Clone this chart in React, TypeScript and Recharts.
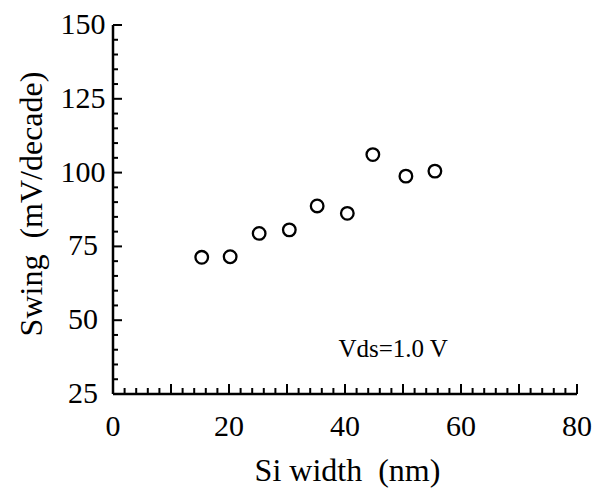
import React from 'react';
import { ScatterChart, Scatter, XAxis, YAxis, ReferenceDot } from 'recharts';

const siWidth = [15.3, 20.2, 25.2, 30.4, 35.2, 40.4, 44.8, 50.5, 55.5];
const swing = [71.3, 71.5, 79.4, 80.6, 88.7, 86.2, 106.1, 98.8, 100.5];
const xTicks = [0, 2, 4, 6, 8, 10, 12, 14, 16, 18, 20, 22, 24, 26, 28, 30, 32, 34, 36, 38, 40, 42, 44, 46, 48, 50, 52, 54, 56, 58, 60, 62, 64, 66, 68, 70, 72, 74, 76, 78, 80];
const yTicks = [25, 30, 35, 40, 45, 50, 55, 60, 65, 70, 75, 80, 85, 90, 95, 100, 105, 110, 115, 120, 125, 130, 135, 140, 145, 150];
const xLabelTicks = [0, 20, 40, 60, 80];
const yLabelTicks = [25, 50, 75, 100, 125, 150];
const xMajor = [0, 10, 20, 30, 40, 50, 60, 70, 80];
const annotation = { x: 48.3, y: 40.5, text: 'Vds=1.0 V' };

const data = siWidth.map((w, i) => ({ w, s: swing[i] }));

const FONT = "Times New Roman, Times, Tinos, Liberation Serif, Noto Serif, DejaVu Serif, FreeSerif, Nimbus Roman, Nimbus Roman No9 L, serif";
const textStyle = (size: number): React.CSSProperties => ({
  fontFamily: FONT,
  fontSize: size,
  whiteSpace: 'pre',
});

const YTick = (props: any) => {
  const { x, y, payload } = props;
  const v = payload.value;
  const major = yLabelTicks.includes(v);
  return (
    <g>
      <line x1={x} x2={x + (major ? 9 : 5)} y1={y} y2={y} stroke="#000" strokeWidth={2} />
      {major && (
        <text x={x - 30} y={y + 9} textAnchor="middle" style={textStyle(30)} fill="#000">
          {v}
        </text>
      )}
    </g>
  );
};

const XTick = (props: any) => {
  const { x, y, payload } = props;
  const v = payload.value;
  const major = xMajor.includes(v);
  const labeled = xLabelTicks.includes(v);
  return (
    <g>
      <line x1={x} x2={x} y1={y} y2={y - (major ? 10 : 6)} stroke="#000" strokeWidth={2} />
      {labeled && (
        <text x={x} y={y + 42} textAnchor="middle" style={textStyle(30)} fill="#000">
          {v}
        </text>
      )}
    </g>
  );
};

const Dot = (props: any) => {
  const { cx, cy } = props;
  return <circle cx={cx} cy={cy} r={6.3} fill="none" stroke="#000" strokeWidth={2.3} />;
};

export default function App() {
  return (
    <div style={{ position: 'absolute', left: 0, top: 0, width: 600, height: 492, background: '#fff', fontFamily: FONT }}>
      <ScatterChart width={600} height={492} margin={{ top: 25, right: 23, bottom: 0, left: 0 }} style={{ fontFamily: FONT }}>
        <XAxis
          xAxisId="b"
          type="number"
          dataKey="w"
          domain={[0, 80]}
          ticks={xTicks}
          interval={0}
          height={98}
          tickSize={0}
          tickMargin={0}
          tickLine={false}
          axisLine={{ stroke: '#000', strokeWidth: 2.5 }}
          tick={<XTick />}
          label={{
            content: (p: any) => {
              const vb = p.viewBox;
              return (
                <text
                  x={vb.x + vb.width / 2 + 2.5}
                  y={vb.y + 87}
                  textAnchor="middle"
                  fill="#000"
                  style={textStyle(32)}
                >
                  {'Si width  (nm)'}
                </text>
              );
            },
          }}
        />
        <XAxis
          xAxisId="t"
          orientation="top"
          type="number"
          domain={[0, 80]}
          height={0}
          tick={false}
          tickLine={false}
          axisLine={{ stroke: '#000', strokeWidth: 2.5 }}
        />
        <YAxis
          yAxisId="l"
          type="number"
          dataKey="s"
          domain={[25, 150]}
          ticks={yTicks}
          interval={0}
          width={113}
          tickSize={0}
          tickMargin={0}
          tickLine={false}
          axisLine={{ stroke: '#000', strokeWidth: 2.5 }}
          tick={<YTick />}
          label={{
            content: (p: any) => {
              const vb = p.viewBox;
              const cx = vb.x + 42;
              const cy = vb.y + vb.height / 2 - 5.5;
              return (
                <text
                  x={cx}
                  y={cy}
                  transform={`rotate(-90, ${cx}, ${cy})`}
                  textAnchor="middle"
                  fill="#000"
                  style={textStyle(32)}
                >
                  {'Swing  (mV/decade)'}
                </text>
              );
            },
          }}
        />
        <YAxis
          yAxisId="r"
          orientation="right"
          type="number"
          domain={[25, 150]}
          width={0}
          tick={false}
          tickLine={false}
          axisLine={{ stroke: '#000', strokeWidth: 2.5 }}
        />
        <Scatter
          data={data}
          xAxisId="b"
          yAxisId="l"
          isAnimationActive={false}
          shape={<Dot />}
        />
        <ReferenceDot
          xAxisId="b"
          yAxisId="l"
          x={annotation.x}
          y={annotation.y}
          r={0}
          stroke="none"
          fill="none"
          label={{
            content: (p: any) => {
              const vb = p.viewBox;
              const cx = vb.x + (vb.width || 0) / 2;
              const cy = vb.y + (vb.height || 0) / 2;
              return (
                <text x={cx} y={cy + 9} textAnchor="middle" fill="#000" style={textStyle(25)}>
                  {annotation.text}
                </text>
              );
            },
          }}
        />
      </ScatterChart>
    </div>
  );
}
